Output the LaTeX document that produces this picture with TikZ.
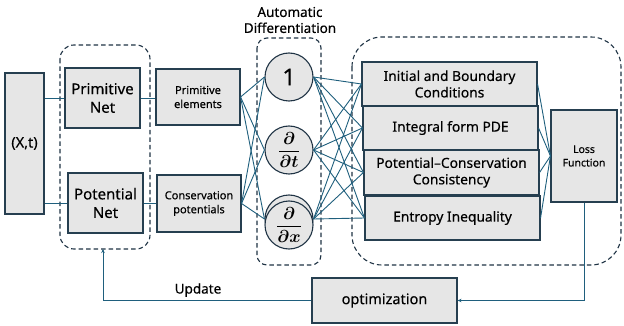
\documentclass[tikz,border=0pt]{standalone}
\usepackage{fontspec}
\setmainfont{Noto Sans}[FakeBold=0.35]
\usepackage{bm}
\usetikzlibrary{arrows.meta}
\definecolor{wire}{HTML}{1F5F7D}
\definecolor{edge}{HTML}{263F50}
\definecolor{boxfill}{HTML}{E6E6E6}
\definecolor{grp}{HTML}{1F3344}
\begin{document}
\begin{tikzpicture}[x=1pt,y=-1pt,
  box/.style={draw=edge,fill=boxfill,line width=1.1pt,inner sep=1pt,align=center,text=black},
  circ/.style={circle,draw=grp,fill=boxfill,line width=1.1pt,minimum size=48pt,inner sep=0pt,text=black},
  grpbox/.style={draw=grp,line width=1.1pt,dash pattern=on 4.5pt off 3pt},
  wireline/.style={draw=wire,line width=0.9pt},
  tip/.style={-{Stealth[length=4pt,width=3.5pt]}}]
\useasboundingbox (0,0) rectangle (624,326);

% dashed groupings
\draw[grpbox,rounded corners=14pt] (60,45) rectangle (150,249);
\draw[grpbox,rounded corners=10pt] (257,38) rectangle (321,265);
\draw[grpbox,rounded corners=30pt] (352,37) rectangle (621,265);

\node[align=center,font=\fontsize{13.5}{16}\selectfont] (adtitle) at (290,20) {Automatic\\Differentiation};

% inputs and networks
\node[box,minimum width=39pt,minimum height=141pt,font=\fontsize{14.5}{17}\selectfont] (xt) at (24.5,143.5) {(X,t)};
\node[box,minimum width=75pt,minimum height=60pt,font=\fontsize{15}{18.5}\selectfont] (pnet) at (102.5,98) {Primitive\\Net};
\node[box,minimum width=75pt,minimum height=60pt,font=\fontsize{15}{18.5}\selectfont] (potnet) at (105.5,203) {Potential\\Net};
\node[box,minimum width=84pt,minimum height=56pt,font=\fontsize{11}{14}\selectfont] (pel) at (198,97) {Primitive\\elements};
\node[box,minimum width=84pt,minimum height=57pt,font=\fontsize{11}{14}\selectfont] (cpot) at (199,203.5) {Conservation\\potentials};

% differential operators
\node[circ,font=\fontsize{23}{25}\selectfont] (c1) at (289,77) {1};
\node[circ,font=\fontsize{17}{20}\selectfont] (ct) at (289,150) {$\displaystyle\frac{\bm{\partial}}{\bm{\partial t}}$};
\node[circ] (cxb) at (289,219) {};
\node[circ,font=\fontsize{17}{20}\selectfont] (cx) at (289,225) {$\displaystyle\frac{\bm{\partial}}{\bm{\partial x}}$};

% loss terms
\node[box,minimum width=175pt,minimum height=44pt,font=\fontsize{13.8}{16.5}\selectfont] (ibc) at (449.5,84) {Initial and Boundary\\Conditions};
\node[box,minimum width=175pt,minimum height=44pt,font=\fontsize{13.8}{16.5}\selectfont] (pde) at (450.5,128) {Integral form PDE};
\node[box,minimum width=175pt,minimum height=45pt,font=\fontsize{13.8}{16.5}\selectfont] (pcc) at (451.5,172.5) {Potential–Conservation\\Consistency};
\node[box,minimum width=175pt,minimum height=44pt,font=\fontsize{13.8}{16.5}\selectfont] (ent) at (452.5,218) {Entropy Inequality};
\node[box,minimum width=66pt,minimum height=92pt,font=\fontsize{10.5}{13.5}\selectfont] (loss) at (584,156) {Loss\\Function};
\node[box,minimum width=145pt,minimum height=45pt,font=\fontsize{14.5}{17}\selectfont] (opt) at (384.5,300.5) {optimization};

% connectors
\draw[wireline] (xt.east |- pnet.west) -- (pnet.west);
\draw[wireline] (xt.east |- potnet.west) -- (potnet.west);
\draw[wireline] (pnet.east) -- (pnet.east -| pel.west);
\draw[wireline] (potnet.east) -- (potnet.east -| cpot.west);

\foreach \s in {pel,cpot}
  \foreach \t in {c1,ct,cxb}
    \draw[wireline] (\s.east) -- (\t.west);

\foreach \s in {c1,ct,cxb}
  \foreach \t in {ibc,pde,pcc,ent}
    \draw[wireline] (\s.east) -- (\t.west);

\foreach \s in {ibc,pde,pcc,ent}
  \draw[wireline] (\s.east) -- (loss.west);

\draw[wireline,tip] (loss.south) |- (opt.east);
\coordinate (upd) at (103,249);
\draw[wireline,tip] (opt.west) -| (upd);
\node[font=\fontsize{13.5}{16}\selectfont] (updlabel) at (198,290) {Update};
\end{tikzpicture}
\end{document}
